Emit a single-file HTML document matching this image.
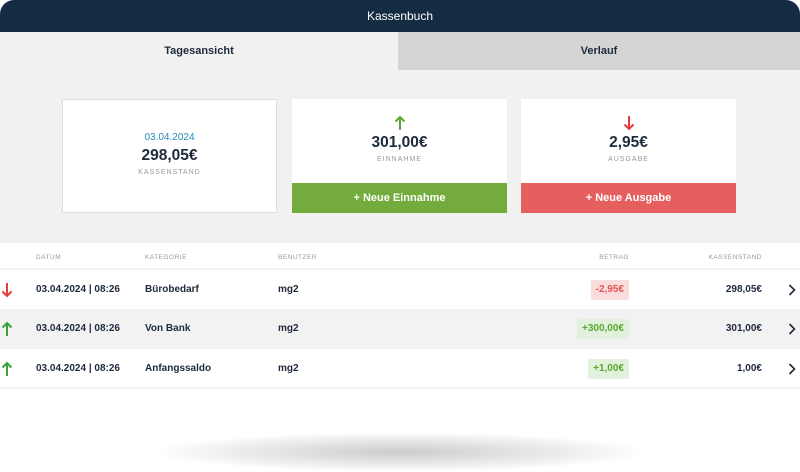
<!DOCTYPE html><html><head><style>
*{margin:0;padding:0;box-sizing:border-box}
body{width:800px;height:450px;overflow:hidden;background:#fff;font-family:"Liberation Sans",sans-serif;color:#1e2a3a;position:relative}
.hd{position:absolute;left:0;top:0;width:800px;height:32px;background:#132c42;border-radius:14px 14px 0 0;color:#fff;font-size:12px;text-align:center;line-height:32px}
.t{position:absolute;top:32px;height:38px;line-height:38px;text-align:center;font-size:11px;font-weight:bold}
.gray{position:absolute;left:0;top:32px;width:800px;height:211px;background:#f1f1f1}
.card{position:absolute;top:99px;width:215px;height:114px;background:#fff;text-align:center}
.btn{position:absolute;left:0;bottom:0;width:100%;height:30px;line-height:30px;color:#fff;font-size:11px;font-weight:bold}
.amt{font-size:15.5px;font-weight:bold}
.lab{font-size:7px;letter-spacing:1px;color:#999;margin-top:4px}
.row{position:absolute;left:0;width:800px;font-size:10px;font-weight:bold}
.row span{position:absolute}
.th{font-size:6.5px;color:#999;font-weight:normal;letter-spacing:.5px}
.pill{position:absolute;padding:0 5px;height:20px;line-height:20px;border-radius:2px}
svg{position:absolute}
</style></head><body>
<div class="hd">Kassenbuch</div>
<div class="gray"></div>
<div class="t" style="left:0;width:398px">Tagesansicht</div>
<div class="t" style="left:398px;width:402px;background:#d4d4d4">Verlauf</div>
<div class="card" style="left:62px;border:1px solid #ddd"><div style="margin-top:32px;color:#2a8ac4;font-size:10px">03.04.2024</div><div class="amt" style="margin-top:4px">298,05€</div><div class="lab">KASSENSTAND</div></div>
<div class="card" style="left:292px"><svg style="left:102px;top:16px" width="12" height="16" viewBox="0 0 12 16"><path d="M6 15V2M1.5 6.5L6 2l4.5 4.5" stroke="#5aa732" stroke-width="2" fill="none"/></svg><div class="amt" style="margin-top:35px">301,00€</div><div class="lab">EINNAHME</div><div class="btn" style="background:#73ac3c">+ Neue Einnahme</div></div>
<div class="card" style="left:521px"><svg style="left:102px;top:16px" width="12" height="16" viewBox="0 0 12 16"><path d="M6 1v13M1.5 9.5L6 14l4.5-4.5" stroke="#e63b3b" stroke-width="2" fill="none"/></svg><div class="amt" style="margin-top:35px">2,95€</div><div class="lab">AUSGABE</div><div class="btn" style="background:#e65f5f">+ Neue Ausgabe</div></div>
<div class="row" style="top:243px;height:27px;border-bottom:2px solid #f3f3f3"><span class="th" style="left:36px;top:11px">DATUM</span><span class="th" style="left:145px;top:11px">KATEGORIE</span><span class="th" style="left:278px;top:11px">BENUTZER</span><span class="th" style="right:171px;top:11px">BETRAG</span><span class="th" style="right:38px;top:11px">KASSENSTAND</span></div>
<div class="row" style="top:270px;height:39px"><svg style="left:1px;top:12px" width="12" height="16" viewBox="0 0 12 16"><path d="M6 1v13M1.5 9.5L6 14l4.5-4.5" stroke="#e63b3b" stroke-width="2" fill="none"/></svg><span style="left:36px;top:14px">03.04.2024 | 08:26</span><span style="left:145px;top:14px">Bürobedarf</span><span style="left:278px;top:14px">mg2</span><span class="pill" style="right:171px;top:10px;background:#f9dcdc;color:#e65555">-2,95€</span><span style="right:38px;top:14px">298,05€</span><svg style="left:788px;top:14px" width="8" height="12" viewBox="0 0 8 12"><path d="M1.5 1l5 5-5 5" stroke="#1e2a3a" stroke-width="1.6" fill="none"/></svg></div>
<div class="row" style="top:309px;height:40px;background:#f2f2f2"><svg style="left:1px;top:12px" width="12" height="16" viewBox="0 0 12 16"><path d="M6 15V2M1.5 6.5L6 2l4.5 4.5" stroke="#3aa03a" stroke-width="2" fill="none"/></svg><span style="left:36px;top:14px">03.04.2024 | 08:26</span><span style="left:145px;top:14px">Von Bank</span><span style="left:278px;top:14px">mg2</span><span class="pill" style="right:171px;top:10px;background:#e2f1dc;color:#5aa732">+300,00€</span><span style="right:38px;top:14px">301,00€</span><svg style="left:788px;top:14px" width="8" height="12" viewBox="0 0 8 12"><path d="M1.5 1l5 5-5 5" stroke="#1e2a3a" stroke-width="1.6" fill="none"/></svg></div>
<div class="row" style="top:349px;height:40px;border-bottom:2px solid #f3f3f3"><svg style="left:1px;top:12px" width="12" height="16" viewBox="0 0 12 16"><path d="M6 15V2M1.5 6.5L6 2l4.5 4.5" stroke="#3aa03a" stroke-width="2" fill="none"/></svg><span style="left:36px;top:14px">03.04.2024 | 08:26</span><span style="left:145px;top:14px">Anfangssaldo</span><span style="left:278px;top:14px">mg2</span><span class="pill" style="right:171px;top:10px;background:#e2f1dc;color:#5aa732">+1,00€</span><span style="right:38px;top:14px">1,00€</span><svg style="left:788px;top:14px" width="8" height="12" viewBox="0 0 8 12"><path d="M1.5 1l5 5-5 5" stroke="#1e2a3a" stroke-width="1.6" fill="none"/></svg></div>
<div style="position:absolute;left:150px;top:432px;width:500px;height:40px;border-radius:50%;background:radial-gradient(ellipse at center,rgba(0,0,0,.2) 0%,rgba(0,0,0,.08) 45%,rgba(0,0,0,0) 70%)"></div>
</body></html>
